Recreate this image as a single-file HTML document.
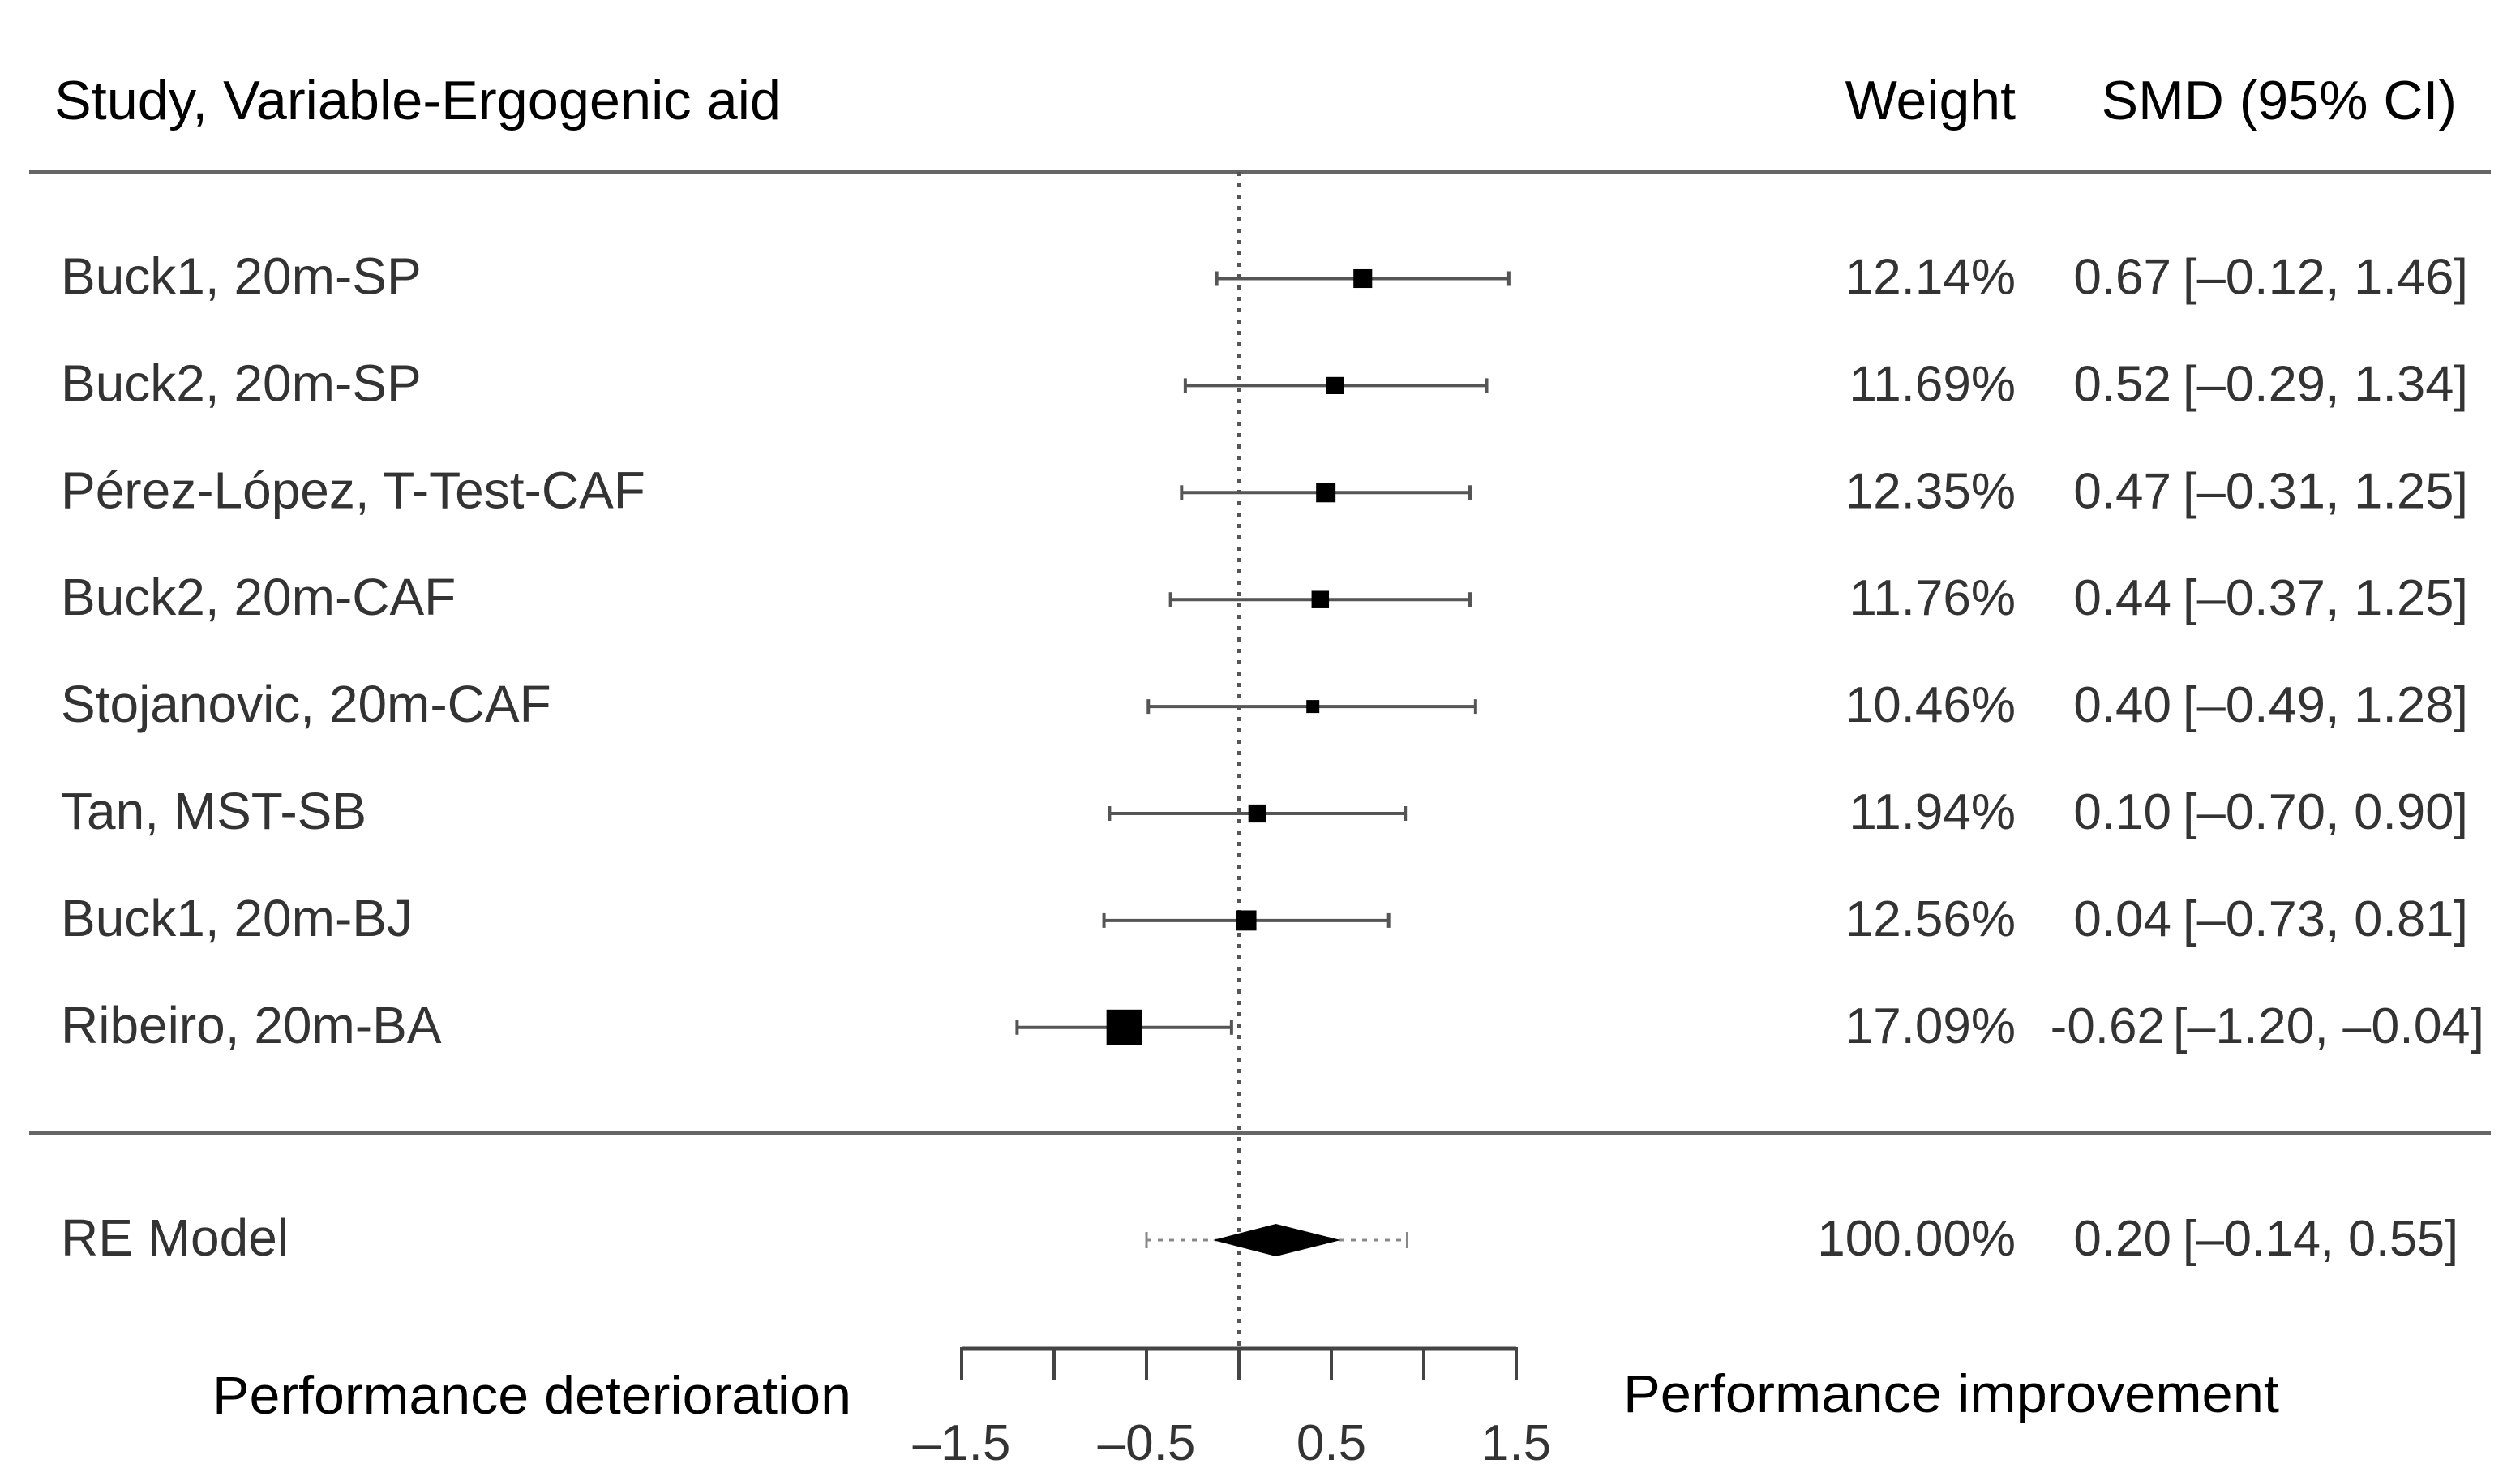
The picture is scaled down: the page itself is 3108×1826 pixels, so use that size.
<!DOCTYPE html>
<html><head><meta charset="utf-8">
<style>
html,body{margin:0;padding:0;background:#fff;}
svg{display:block;font-family:"Liberation Sans",Arial,sans-serif;}
</style></head>
<body>
<svg id="chart" width="3108" height="1826" viewBox="0 0 3108 1826" xmlns="http://www.w3.org/2000/svg">
<g id="header">
<text x="67" y="147" font-size="68" fill="#000" textLength="896" lengthAdjust="spacingAndGlyphs">Study, Variable-Ergogenic aid</text>
<text x="2486" y="147" font-size="68" fill="#000" text-anchor="end">Weight</text>
<text x="3030" y="147" font-size="68" fill="#000" text-anchor="end">SMD (95% CI)</text>
</g>
<line x1="36" y1="212" x2="3072" y2="212" stroke="#666" stroke-width="5"/>
<line x1="36" y1="1397" x2="3072" y2="1397" stroke="#666" stroke-width="5"/>
<g id="marks"></g>
</svg>
<script>
const studies = ["Buck1, 20m-SP","Buck2, 20m-SP","Pérez-López, T-Test-CAF","Buck2, 20m-CAF","Stojanovic, 20m-CAF","Tan, MST-SB","Buck1, 20m-BJ","Ribeiro, 20m-BA"];
const estimates = [0.67,0.52,0.47,0.44,0.40,0.10,0.04,-0.62];
const lowers = [-0.12,-0.29,-0.31,-0.37,-0.49,-0.70,-0.73,-1.20];
const uppers = [1.46,1.34,1.25,1.25,1.28,0.90,0.81,-0.04];
const weights = [12.14,11.69,12.35,11.76,10.46,11.94,12.56,17.09];
const estLabels = ["0.67","0.52","0.47","0.44","0.40","0.10","0.04","-0.62"];
const ciLabels = ["[\u20130.12, 1.46]","[\u20130.29, 1.34]","[\u20130.31, 1.25]","[\u20130.37, 1.25]","[\u20130.49, 1.28]","[\u20130.70, 0.90]","[\u20130.73, 0.81]","[\u20131.20, \u20130.04]"];
const reModel = [0.20,-0.14,0.55];
const rePI = [-0.50,0.91];
const tickValues = [-1.5,-1,-0.5,0,0.5,1,1.5];
const tickLabels = ["\u20131.5","\u20130.5","0.5","1.5"];
const tickLabelValues = [-1.5,-0.5,0.5,1.5];

const NS="http://www.w3.org/2000/svg";
const g=document.getElementById('marks');
const X=v=>1528+228*v;
const Y=i=>343.5+131.9*i;
function el(tag,attrs,parent){const e=document.createElementNS(NS,tag);for(const k in attrs)e.setAttribute(k,attrs[k]);(parent||g).appendChild(e);return e;}
function txt(s,attrs){const e=el('text',attrs);e.textContent=s;return e;}

const ref=el('line',{x1:X(0),y1:212,x2:X(0),y2:1663,stroke:'#555','stroke-width':4,'stroke-dasharray':'5 9'});



studies.forEach((s,i)=>{
  const y=Y(i);
  const row=el('g',{});
  
  
  const ci=el('line',{x1:X(lowers[i]),y1:y,x2:X(uppers[i]),y2:y,stroke:'#555','stroke-width':4},row);
  
  
  [lowers[i],uppers[i]].forEach(v=>{
    const c=el('line',{x1:X(v),y1:y-9,x2:X(v),y2:y+9,stroke:'#555','stroke-width':4},row);
    
    
  });
  const sz=16+(weights[i]-10.46)*4.22;
  const sq=el('rect',{x:X(estimates[i])-sz/2,y:y-sz/2,width:sz,height:sz,fill:'#000'},row);
  
  
  const t1=el('text',{x:75,y:y+19,'font-size':64,fill:'#333'},row);t1.textContent=s;
  
  
  const t2=el('text',{x:2486,y:y+19,'font-size':62,fill:'#333','text-anchor':'end'},row);t2.textContent=weights[i].toFixed(2)+'%';
  
  
  const neg=estimates[i]<0 && uppers[i]<0;
  const t3=el('text',{x:neg?2670:2678,y:y+19,'font-size':62,fill:'#333','text-anchor':'end'},row);t3.textContent=estLabels[i];
  
  
  const t4=el('text',{x:neg?2680:2692,y:y+19,'font-size':62,fill:'#333',textLength:neg?384:352,lengthAdjust:'spacingAndGlyphs'},row);t4.textContent=ciLabels[i];
  
  
});

const yr=1529;
const pi=el('line',{x1:X(rePI[0]),y1:yr,x2:X(rePI[1]),y2:yr,stroke:'#888','stroke-width':3,'stroke-dasharray':'6 8'});


rePI.forEach(v=>{const c=el('line',{x1:X(v),y1:yr-10,x2:X(v),y2:yr+10,stroke:'#888','stroke-width':3});

});
const dia=el('polygon',{points:`${X(reModel[1])},${yr} ${X(reModel[0])},${yr-20} ${X(reModel[2])},${yr} ${X(reModel[0])},${yr+20}`,fill:'#000'});


[["RE Model",75,'start','re-model-label',0],["100.00%",2486,'end','re-weight-label',0],["0.20",2678,'end','re-smd-label',0],["[\u20130.14, 0.55]",2692,'start','re-ci-label',340]].forEach(a=>{
  const attrs={x:a[1],y:yr+19,'font-size':a[0]==="RE Model"?64:62,fill:'#333','text-anchor':a[2]};
  if(a[4]){attrs.textLength=a[4];attrs.lengthAdjust='spacingAndGlyphs';}
  const t=txt(a[0],attrs);
  
  
});

const ax=el('line',{x1:X(-1.5),y1:1663,x2:X(1.5),y2:1663,stroke:'#444','stroke-width':5});


tickValues.forEach(v=>{const t=el('line',{x1:X(v),y1:1661,x2:X(v),y2:1702,stroke:'#444','stroke-width':4});

});
tickLabelValues.forEach((v,i)=>{const t=txt(tickLabels[i],{x:X(v),y:1800,'font-size':62,fill:'#333','text-anchor':'middle'});

});
const l1=txt("Performance deterioration",{x:262,y:1743,'font-size':66,fill:'#000',textLength:788,lengthAdjust:'spacingAndGlyphs'});


const l2=txt("Performance improvement",{x:2002,y:1741,'font-size':66,fill:'#000',textLength:809,lengthAdjust:'spacingAndGlyphs'});


</script>
</body></html>
